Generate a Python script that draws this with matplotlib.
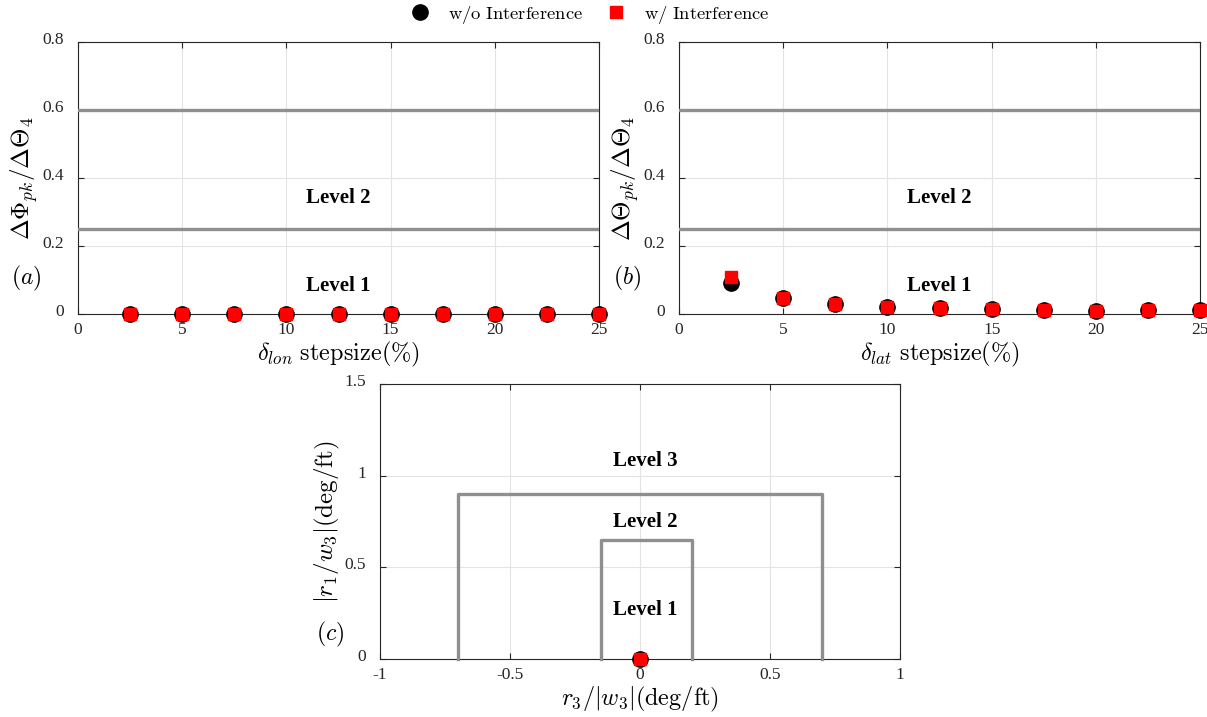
import matplotlib
matplotlib.use("Agg")
import matplotlib.pyplot as plt
import matplotlib.transforms as mtransforms

plt.rcParams['font.family'] = ['Liberation Serif', 'DejaVu Serif']
plt.rcParams['mathtext.fontset'] = 'cm'

# step sizes (%) for the longitudinal and lateral sweeps
step = [2.5, 5, 7.5, 10, 12.5, 15, 17.5, 20, 22.5, 25]

# (a) roll peak ratio
lon_wo = [0, 0, 0, 0, 0, 0, 0, 0, 0, 0]
lon_w = [0, 0, 0, 0, 0, 0, 0, 0, 0, 0]

# (b) pitch peak ratio
lat_wo = [0.090, 0.046, 0.030, 0.021, 0.017, 0.015, 0.013, 0.010, 0.011, 0.013]
lat_w = [0.108, 0.046, 0.030, 0.021, 0.017, 0.015, 0.013, 0.010, 0.011, 0.013]

# level boundaries for (a)/(b)
level_bounds = [0.25, 0.6]

# (c) yaw coupling point and level boxes
yaw_x_wo, yaw_y_wo = [0.0], [0.0]
yaw_x_w, yaw_y_w = [0.0], [0.0]
box2_x = [-0.15, -0.15, 0.2, 0.2]
box2_y = [0, 0.65, 0.65, 0]
box3_x = [-0.7, -0.7, 0.7, 0.7]
box3_y = [0, 0.9, 0.9, 0]

axis_col = '#262626'
level_col = '#8f8f8f'
grid_col = '#e3e3e3'


def style_axes(ax, fig):
    for s in ax.spines.values():
        s.set_color(axis_col)
        s.set_linewidth(0.8)
    ax.tick_params(direction='in', top=True, right=True, length=4,
                   colors=axis_col, labelsize=12.5)
    ax.tick_params(axis='x', pad=6)
    ax.tick_params(axis='y', pad=10)
    ax.grid(True, color=grid_col, linewidth=0.8)
    ax.set_axisbelow(True)
    # nudge y tick labels up a bit
    off = mtransforms.ScaledTranslation(0, 3 / 72, fig.dpi_scale_trans)
    for lab in ax.get_yticklabels():
        lab.set_transform(lab.get_transform() + off)


def draw_points(ax, x_wo, y_wo, x_w, y_w):
    ax.plot(x_wo, y_wo, 'o', color='black', markersize=11, linestyle='none',
            label=r'$\mathrm{w/o\ Interference}$', clip_on=False, zorder=4)
    ax.plot(x_w, y_w, 's', color='red', markersize=9, linestyle='none',
            label=r'$\mathrm{w/\ Interference}$', clip_on=False, zorder=5)


fig = plt.figure(figsize=(12.07, 7.17), dpi=100)

ax_a = fig.add_axes([0.0646, 0.5621, 0.4317, 0.3793])
ax_b = fig.add_axes([0.5626, 0.5621, 0.4317, 0.3793])
ax_c = fig.add_axes([0.3148, 0.0809, 0.4308, 0.3835])

lvl_kw = dict(ha='center', va='center', fontsize=15, fontweight='bold')

for ax, yw, yo, xl, yl, tag in [
        (ax_a, lon_w, lon_wo, r'$\delta_{lon}\ \mathrm{stepsize}(\%)$',
         r'$\Delta\Phi_{pk}/\Delta\Theta_4$', r'$(a)$'),
        (ax_b, lat_w, lat_wo, r'$\delta_{lat}\ \mathrm{stepsize}(\%)$',
         r'$\Delta\Theta_{pk}/\Delta\Theta_4$', r'$(b)$')]:
    for b in level_bounds:
        ax.axhline(b, color=level_col, linewidth=2.4, zorder=3)
    draw_points(ax, step, yo, step, yw)
    ax.set_xlim(0, 25)
    ax.set_ylim(0, 0.8)
    ax.set_xticks([0, 5, 10, 15, 20, 25])
    ax.set_xticklabels(['0', '5', '10', '15', '20', '25'])
    ax.set_yticks([0, 0.2, 0.4, 0.6, 0.8])
    ax.set_yticklabels(['0', '0.2', '0.4', '0.6', '0.8'])
    ax.set_xlabel(xl, fontsize=17.5, labelpad=1)
    ax.set_ylabel(yl, fontsize=18, labelpad=2)
    ax.text(12.5, 0.34, 'Level 2', **lvl_kw)
    ax.text(12.5, 0.083, 'Level 1', **lvl_kw)
    ax.text(-0.1, 0.13, tag, transform=ax.transAxes, ha='center', va='center',
            fontsize=17)
    style_axes(ax, fig)

# (c)
ax_c.plot(box3_x, box3_y, color=level_col, linewidth=2.4, zorder=3, clip_on=False)
ax_c.plot(box2_x, box2_y, color=level_col, linewidth=2.4, zorder=3, clip_on=False)
draw_points(ax_c, yaw_x_wo, yaw_y_wo, yaw_x_w, yaw_y_w)
ax_c.set_xlim(-1, 1)
ax_c.set_ylim(0, 1.5)
ax_c.set_xticks([-1, -0.5, 0, 0.5, 1])
ax_c.set_xticklabels(['-1', '-0.5', '0', '0.5', '1'])
ax_c.set_yticks([0, 0.5, 1, 1.5])
ax_c.set_yticklabels(['0', '0.5', '1', '1.5'])
ax_c.set_xlabel(r'$r_3/|w_3|(\mathrm{deg/ft})$', fontsize=17.5, labelpad=1)
ax_c.set_ylabel(r'$|r_1/w_3|(\mathrm{deg/ft})$', fontsize=18, labelpad=2)
ax_c.text(0.02, 1.08, 'Level 3', **lvl_kw)
ax_c.text(0.02, 0.75, 'Level 2', **lvl_kw)
ax_c.text(0.02, 0.27, 'Level 1', **lvl_kw)
ax_c.text(-0.095, 0.09, r'$(c)$', transform=ax_c.transAxes, ha='center', va='center',
          fontsize=17)
style_axes(ax_c, fig)

handles, labels = ax_a.get_legend_handles_labels()
fig.legend(handles, labels, loc='upper center', bbox_to_anchor=(0.489, 1.018),
           ncol=2, frameon=False, fontsize=13.4, handlelength=1.0,
           handletextpad=1.0, columnspacing=1.3)

fig.savefig('out.png', dpi=100)
